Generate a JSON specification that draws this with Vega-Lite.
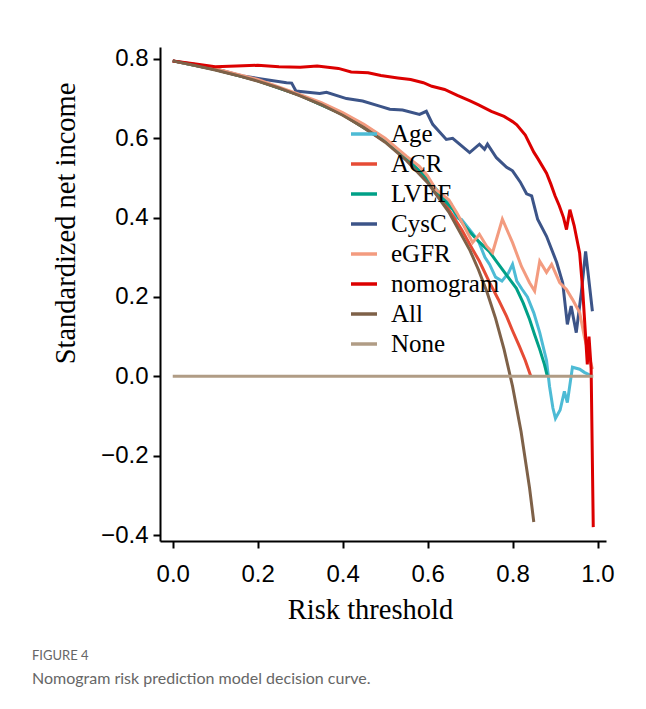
{
  "$schema": "https://vega.github.io/schema/vega-lite/v6.json",
  "autosize": "none",
  "width": 446,
  "height": 494,
  "padding": {"left": 160, "top": 47, "right": 40, "bottom": 168},
  "background": "white",
  "title": {
    "text": "FIGURE 4",
    "subtitle": "Nomogram risk prediction model decision curve.",
    "orient": "bottom",
    "anchor": "start",
    "frame": "group",
    "dx": -128,
    "offset": 26,
    "font": "Lato",
    "fontSize": 13,
    "fontWeight": "normal",
    "color": "#666666",
    "subtitleFont": "Lato",
    "subtitleFontSize": 16,
    "subtitleColor": "#666666",
    "subtitlePadding": 8
  },
  "config": {
    "view": {"stroke": null},
    "axis": {
      "grid": false,
      "domainColor": "black",
      "domainWidth": 2,
      "tickColor": "black",
      "tickWidth": 2,
      "tickSize": 7,
      "labelFont": "Liberation Sans",
      "labelFontSize": 24,
      "labelColor": "black",
      "titleFont": "Liberation Serif",
      "titleFontSize": 28.5,
      "titleFontWeight": "normal",
      "titleColor": "black"
    }
  },
  "data": {"values": [
    {"model": "Age", "x": 0, "y": 0.795}, {"model": "Age", "x": 0.1, "y": 0.773}, {"model": "Age", "x": 0.2, "y": 0.746}, {"model": "Age", "x": 0.3, "y": 0.708}, {"model": "Age", "x": 0.4, "y": 0.66}, {"model": "Age", "x": 0.5, "y": 0.594}, {"model": "Age", "x": 0.55, "y": 0.55}, {"model": "Age", "x": 0.6, "y": 0.497}, {"model": "Age", "x": 0.63, "y": 0.46}, {"model": "Age", "x": 0.655, "y": 0.435}, {"model": "Age", "x": 0.668, "y": 0.4}, {"model": "Age", "x": 0.68, "y": 0.395}, {"model": "Age", "x": 0.706, "y": 0.36}, {"model": "Age", "x": 0.72, "y": 0.34}, {"model": "Age", "x": 0.735, "y": 0.3}, {"model": "Age", "x": 0.746, "y": 0.282}, {"model": "Age", "x": 0.76, "y": 0.25}, {"model": "Age", "x": 0.775, "y": 0.24}, {"model": "Age", "x": 0.79, "y": 0.26}, {"model": "Age", "x": 0.8, "y": 0.282}, {"model": "Age", "x": 0.81, "y": 0.24}, {"model": "Age", "x": 0.822, "y": 0.22}, {"model": "Age", "x": 0.835, "y": 0.2}, {"model": "Age", "x": 0.85, "y": 0.16}, {"model": "Age", "x": 0.864, "y": 0.11}, {"model": "Age", "x": 0.88, "y": 0.04}, {"model": "Age", "x": 0.887, "y": -0.025}, {"model": "Age", "x": 0.895, "y": -0.08}, {"model": "Age", "x": 0.901, "y": -0.106}, {"model": "Age", "x": 0.912, "y": -0.085}, {"model": "Age", "x": 0.922, "y": -0.038}, {"model": "Age", "x": 0.929, "y": -0.066}, {"model": "Age", "x": 0.941, "y": 0.023}, {"model": "Age", "x": 0.958, "y": 0.018}, {"model": "Age", "x": 0.969, "y": 0.01}, {"model": "Age", "x": 0.988, "y": 0.0},

    {"model": "ACR", "x": 0, "y": 0.795}, {"model": "ACR", "x": 0.1, "y": 0.773}, {"model": "ACR", "x": 0.2, "y": 0.745}, {"model": "ACR", "x": 0.3, "y": 0.708}, {"model": "ACR", "x": 0.4, "y": 0.66}, {"model": "ACR", "x": 0.5, "y": 0.592}, {"model": "ACR", "x": 0.55, "y": 0.548}, {"model": "ACR", "x": 0.6, "y": 0.495}, {"model": "ACR", "x": 0.65, "y": 0.42}, {"model": "ACR", "x": 0.68, "y": 0.37}, {"model": "ACR", "x": 0.706, "y": 0.32}, {"model": "ACR", "x": 0.722, "y": 0.29}, {"model": "ACR", "x": 0.746, "y": 0.236}, {"model": "ACR", "x": 0.766, "y": 0.195}, {"model": "ACR", "x": 0.786, "y": 0.151}, {"model": "ACR", "x": 0.8, "y": 0.115}, {"model": "ACR", "x": 0.816, "y": 0.076}, {"model": "ACR", "x": 0.83, "y": 0.04}, {"model": "ACR", "x": 0.843, "y": 0.0},

    {"model": "LVEF", "x": 0, "y": 0.795}, {"model": "LVEF", "x": 0.1, "y": 0.773}, {"model": "LVEF", "x": 0.2, "y": 0.745}, {"model": "LVEF", "x": 0.3, "y": 0.708}, {"model": "LVEF", "x": 0.4, "y": 0.66}, {"model": "LVEF", "x": 0.5, "y": 0.593}, {"model": "LVEF", "x": 0.55, "y": 0.55}, {"model": "LVEF", "x": 0.6, "y": 0.497}, {"model": "LVEF", "x": 0.63, "y": 0.455}, {"model": "LVEF", "x": 0.66, "y": 0.42}, {"model": "LVEF", "x": 0.69, "y": 0.375}, {"model": "LVEF", "x": 0.72, "y": 0.34}, {"model": "LVEF", "x": 0.745, "y": 0.315}, {"model": "LVEF", "x": 0.762, "y": 0.29}, {"model": "LVEF", "x": 0.786, "y": 0.255}, {"model": "LVEF", "x": 0.809, "y": 0.222}, {"model": "LVEF", "x": 0.825, "y": 0.185}, {"model": "LVEF", "x": 0.84, "y": 0.144}, {"model": "LVEF", "x": 0.852, "y": 0.105}, {"model": "LVEF", "x": 0.864, "y": 0.068}, {"model": "LVEF", "x": 0.875, "y": 0.03}, {"model": "LVEF", "x": 0.882, "y": 0.0},

    {"model": "CysC", "x": 0, "y": 0.795}, {"model": "CysC", "x": 0.06, "y": 0.785}, {"model": "CysC", "x": 0.118, "y": 0.77}, {"model": "CysC", "x": 0.15, "y": 0.761}, {"model": "CysC", "x": 0.165, "y": 0.757}, {"model": "CysC", "x": 0.205, "y": 0.75}, {"model": "CysC", "x": 0.268, "y": 0.74}, {"model": "CysC", "x": 0.28, "y": 0.739}, {"model": "CysC", "x": 0.29, "y": 0.719}, {"model": "CysC", "x": 0.346, "y": 0.713}, {"model": "CysC", "x": 0.362, "y": 0.716}, {"model": "CysC", "x": 0.409, "y": 0.7}, {"model": "CysC", "x": 0.447, "y": 0.694}, {"model": "CysC", "x": 0.487, "y": 0.681}, {"model": "CysC", "x": 0.511, "y": 0.673}, {"model": "CysC", "x": 0.541, "y": 0.671}, {"model": "CysC", "x": 0.581, "y": 0.66}, {"model": "CysC", "x": 0.597, "y": 0.668}, {"model": "CysC", "x": 0.612, "y": 0.635}, {"model": "CysC", "x": 0.644, "y": 0.597}, {"model": "CysC", "x": 0.659, "y": 0.6}, {"model": "CysC", "x": 0.699, "y": 0.564}, {"model": "CysC", "x": 0.722, "y": 0.585}, {"model": "CysC", "x": 0.734, "y": 0.572}, {"model": "CysC", "x": 0.741, "y": 0.585}, {"model": "CysC", "x": 0.762, "y": 0.551}, {"model": "CysC", "x": 0.786, "y": 0.527}, {"model": "CysC", "x": 0.8, "y": 0.518}, {"model": "CysC", "x": 0.818, "y": 0.49}, {"model": "CysC", "x": 0.833, "y": 0.46}, {"model": "CysC", "x": 0.845, "y": 0.455}, {"model": "CysC", "x": 0.859, "y": 0.396}, {"model": "CysC", "x": 0.88, "y": 0.353}, {"model": "CysC", "x": 0.904, "y": 0.287}, {"model": "CysC", "x": 0.918, "y": 0.236}, {"model": "CysC", "x": 0.929, "y": 0.131}, {"model": "CysC", "x": 0.938, "y": 0.177}, {"model": "CysC", "x": 0.95, "y": 0.11}, {"model": "CysC", "x": 0.962, "y": 0.212}, {"model": "CysC", "x": 0.972, "y": 0.315}, {"model": "CysC", "x": 0.988, "y": 0.164},

    {"model": "eGFR", "x": 0, "y": 0.795}, {"model": "eGFR", "x": 0.1, "y": 0.775}, {"model": "eGFR", "x": 0.2, "y": 0.748}, {"model": "eGFR", "x": 0.3, "y": 0.71}, {"model": "eGFR", "x": 0.35, "y": 0.69}, {"model": "eGFR", "x": 0.4, "y": 0.665}, {"model": "eGFR", "x": 0.45, "y": 0.635}, {"model": "eGFR", "x": 0.5, "y": 0.6}, {"model": "eGFR", "x": 0.55, "y": 0.555}, {"model": "eGFR", "x": 0.58, "y": 0.53}, {"model": "eGFR", "x": 0.6, "y": 0.505}, {"model": "eGFR", "x": 0.62, "y": 0.47}, {"model": "eGFR", "x": 0.65, "y": 0.445}, {"model": "eGFR", "x": 0.67, "y": 0.41}, {"model": "eGFR", "x": 0.69, "y": 0.37}, {"model": "eGFR", "x": 0.706, "y": 0.337}, {"model": "eGFR", "x": 0.722, "y": 0.358}, {"model": "eGFR", "x": 0.739, "y": 0.328}, {"model": "eGFR", "x": 0.753, "y": 0.312}, {"model": "eGFR", "x": 0.776, "y": 0.396}, {"model": "eGFR", "x": 0.8, "y": 0.337}, {"model": "eGFR", "x": 0.821, "y": 0.277}, {"model": "eGFR", "x": 0.84, "y": 0.236}, {"model": "eGFR", "x": 0.852, "y": 0.215}, {"model": "eGFR", "x": 0.864, "y": 0.29}, {"model": "eGFR", "x": 0.88, "y": 0.262}, {"model": "eGFR", "x": 0.892, "y": 0.282}, {"model": "eGFR", "x": 0.911, "y": 0.236}, {"model": "eGFR", "x": 0.927, "y": 0.219}, {"model": "eGFR", "x": 0.941, "y": 0.194}, {"model": "eGFR", "x": 0.958, "y": 0.161}, {"model": "eGFR", "x": 0.969, "y": 0.1}, {"model": "eGFR", "x": 0.988, "y": 0.018},

    {"model": "nomogram", "x": 0, "y": 0.795}, {"model": "nomogram", "x": 0.05, "y": 0.788}, {"model": "nomogram", "x": 0.1, "y": 0.78}, {"model": "nomogram", "x": 0.15, "y": 0.782}, {"model": "nomogram", "x": 0.2, "y": 0.784}, {"model": "nomogram", "x": 0.25, "y": 0.78}, {"model": "nomogram", "x": 0.3, "y": 0.779}, {"model": "nomogram", "x": 0.34, "y": 0.782}, {"model": "nomogram", "x": 0.39, "y": 0.776}, {"model": "nomogram", "x": 0.42, "y": 0.767}, {"model": "nomogram", "x": 0.46, "y": 0.765}, {"model": "nomogram", "x": 0.49, "y": 0.758}, {"model": "nomogram", "x": 0.53, "y": 0.752}, {"model": "nomogram", "x": 0.56, "y": 0.748}, {"model": "nomogram", "x": 0.59, "y": 0.74}, {"model": "nomogram", "x": 0.61, "y": 0.731}, {"model": "nomogram", "x": 0.64, "y": 0.723}, {"model": "nomogram", "x": 0.67, "y": 0.708}, {"model": "nomogram", "x": 0.7, "y": 0.694}, {"model": "nomogram", "x": 0.72, "y": 0.684}, {"model": "nomogram", "x": 0.75, "y": 0.668}, {"model": "nomogram", "x": 0.78, "y": 0.655}, {"model": "nomogram", "x": 0.8, "y": 0.642}, {"model": "nomogram", "x": 0.81, "y": 0.634}, {"model": "nomogram", "x": 0.83, "y": 0.608}, {"model": "nomogram", "x": 0.85, "y": 0.565}, {"model": "nomogram", "x": 0.86, "y": 0.548}, {"model": "nomogram", "x": 0.88, "y": 0.512}, {"model": "nomogram", "x": 0.89, "y": 0.485}, {"model": "nomogram", "x": 0.9, "y": 0.455}, {"model": "nomogram", "x": 0.91, "y": 0.43}, {"model": "nomogram", "x": 0.92, "y": 0.4}, {"model": "nomogram", "x": 0.927, "y": 0.37}, {"model": "nomogram", "x": 0.935, "y": 0.42}, {"model": "nomogram", "x": 0.945, "y": 0.38}, {"model": "nomogram", "x": 0.958, "y": 0.31}, {"model": "nomogram", "x": 0.965, "y": 0.22}, {"model": "nomogram", "x": 0.972, "y": 0.1}, {"model": "nomogram", "x": 0.976, "y": 0.03}, {"model": "nomogram", "x": 0.98, "y": 0.1}, {"model": "nomogram", "x": 0.985, "y": 0.02}, {"model": "nomogram", "x": 0.99, "y": -0.38},

    {"model": "All", "x": 0, "y": 0.795}, {"model": "All", "x": 0.05, "y": 0.784}, {"model": "All", "x": 0.1, "y": 0.772}, {"model": "All", "x": 0.15, "y": 0.759}, {"model": "All", "x": 0.2, "y": 0.744}, {"model": "All", "x": 0.25, "y": 0.727}, {"model": "All", "x": 0.3, "y": 0.707}, {"model": "All", "x": 0.35, "y": 0.685}, {"model": "All", "x": 0.4, "y": 0.658}, {"model": "All", "x": 0.45, "y": 0.627}, {"model": "All", "x": 0.5, "y": 0.59}, {"model": "All", "x": 0.55, "y": 0.544}, {"model": "All", "x": 0.6, "y": 0.488}, {"model": "All", "x": 0.65, "y": 0.414}, {"model": "All", "x": 0.7, "y": 0.317}, {"model": "All", "x": 0.72, "y": 0.268}, {"model": "All", "x": 0.74, "y": 0.212}, {"model": "All", "x": 0.76, "y": 0.146}, {"model": "All", "x": 0.78, "y": 0.068}, {"model": "All", "x": 0.8, "y": -0.025}, {"model": "All", "x": 0.82, "y": -0.139}, {"model": "All", "x": 0.84, "y": -0.281}, {"model": "All", "x": 0.85, "y": -0.367},

    {"model": "None", "x": 0, "y": 0}, {"model": "None", "x": 0.99, "y": 0}
  ]},
  "mark": {"type": "line", "strokeWidth": 3, "interpolate": "linear"},
  "encoding": {
    "x": {
      "field": "x", "type": "quantitative",
      "scale": {"domain": [-0.03, 1.02], "nice": false, "zero": false},
      "axis": {
        "values": [0, 0.2, 0.4, 0.6, 0.8, 1.0],
        "format": ".1f",
        "labelPadding": 14,
        "title": "Risk threshold",
        "titleX": 210,
        "titleY": 77,
        "titleBaseline": "alphabetic",
        "titleAnchor": "middle"
      }
    },
    "y": {
      "field": "y", "type": "quantitative",
      "scale": {"domain": [-0.415, 0.83], "nice": false, "zero": false},
      "axis": {
        "values": [-0.4, -0.2, 0, 0.2, 0.4, 0.6, 0.8],
        "format": ".1f",
        "labelPadding": 5,
        "title": "Standardized net income",
        "titleX": -86,
        "titleY": 176,
        "titleBaseline": "alphabetic",
        "titleAngle": -90,
        "titleAnchor": "middle"
      }
    },
    "color": {
      "field": "model", "type": "nominal",
      "scale": {
        "domain": ["Age", "ACR", "LVEF", "CysC", "eGFR", "nomogram", "All", "None"],
        "range": ["#4DBBD5", "#E64B35", "#00A087", "#3C5488", "#F39B7F", "#DC0000", "#7E6148", "#B09C85"]
      },
      "legend": {
        "title": null,
        "orient": "none",
        "legendX": 189,
        "legendY": 72,
        "padding": 0,
        "symbolType": "stroke",
        "symbolStrokeWidth": 3.5,
        "symbolSize": 676,
        "labelFont": "Liberation Serif",
        "labelFontSize": 25,
        "labelColor": "black",
        "labelOffset": 12,
        "rowPadding": 2
      }
    }
  }
}
